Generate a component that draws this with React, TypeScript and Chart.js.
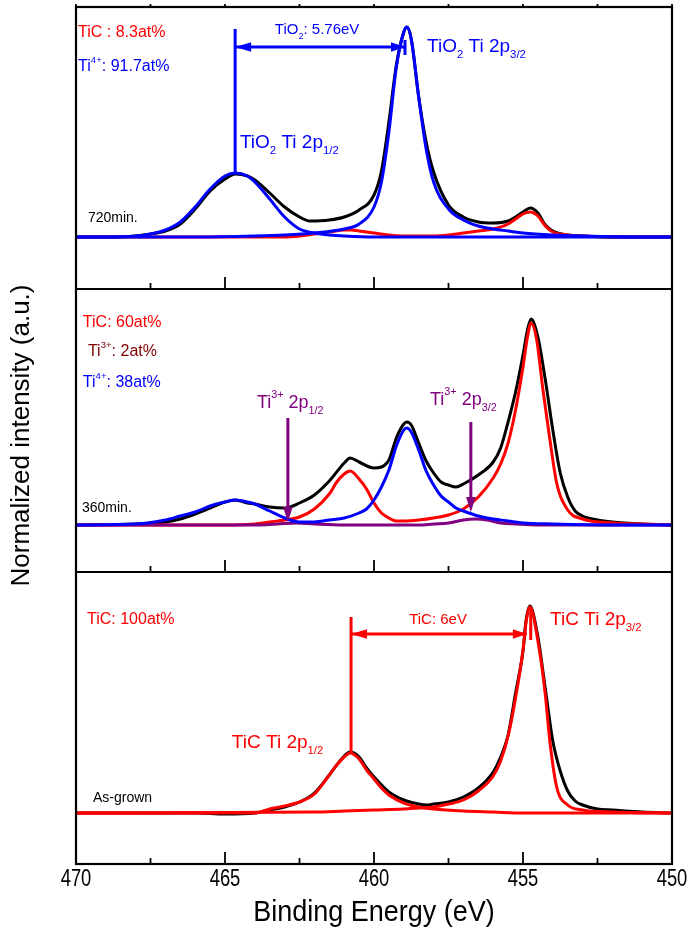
import React, { useEffect, useRef } from "react";
import { Chart, registerables } from "chart.js";

Chart.register(...registerables);

const FONT = '"Liberation Sans", Arial, Helvetica, sans-serif';

// ---------- axis ----------
const X_MIN = 450;
const X_MAX = 470;
const X_MAJOR_TICKS = [470, 465, 460, 455, 450];
const X_TICK_LABELS = ["470", "465", "460", "455", "450"];
const X_MINOR_TICKS = [467.5, 462.5, 457.5, 452.5];

// ---------- 720 min. (top panel) : binding energy (eV) / intensity (a.u.) ----------
const T_EXP_X = [470, 469, 468, 467.5, 467, 466.5, 466, 465.5, 465, 464.65, 464.25, 464, 463.5, 463, 462.5, 462.15, 461.5, 461, 460.5, 460, 459.75, 459.5, 459.25, 459, 458.9, 458.75, 458.5, 458.25, 458, 457.5, 457, 456.5, 456, 455.5, 455.25, 455, 454.75, 454.5, 454.25, 454, 453.5, 453, 452, 451, 450];
const T_EXP_Y = [0, 0, 1, 3, 6, 13, 28, 46, 58, 63, 61, 57, 44, 30, 20, 16, 17, 20, 27, 42, 66, 115, 172, 205, 210, 198, 140, 95, 65, 32, 20, 15, 14, 16, 20, 25, 29, 24, 12, 6, 2, 1, 0, 0, 0];

const T_TIO2_32_X = [470, 466, 464, 463, 462, 461, 460.5, 460, 459.75, 459.5, 459.25, 459, 458.9, 458.75, 458.5, 458.25, 458, 457.5, 457, 456.5, 456, 455.5, 455, 454, 453, 451, 450];
const T_TIO2_32_Y = [0, 0, 1, 2, 4, 8, 13, 30, 55, 105, 170, 205, 210, 198, 140, 88, 55, 28, 17, 11, 8, 6, 4, 2, 1, 0, 0];

const T_TIO2_12_X = [470, 469, 468, 467.5, 467, 466.5, 466, 465.5, 465, 464.65, 464.25, 464, 463.5, 463, 462.5, 462, 461.5, 461, 460, 458, 450];
const T_TIO2_12_Y = [0, 0, 1, 3, 7, 15, 30, 48, 61, 64, 61, 55, 38, 20, 8, 4, 2, 1, 0, 0, 0];

const T_TIC_X = [470, 463, 462.5, 462, 461.5, 461, 460.75, 460.5, 460, 459.5, 459, 458.5, 458, 457.5, 457, 456.5, 456, 455.5, 455.25, 455, 454.75, 454.5, 454.25, 454, 453.5, 453, 452, 450];
const T_TIC_Y = [0, 0, 1, 3, 5, 7, 7, 6, 4, 2, 1, 1, 1, 2, 4, 6, 8, 13, 18, 23, 25, 21, 11, 5, 2, 1, 0, 0];

// ---------- 360 min. (middle panel) ----------
const M_EXP_X = [470, 468, 467, 466.5, 466, 465.5, 465, 464.65, 464.25, 464, 463.5, 463, 462.5, 462, 461.5, 461, 460.8, 460.5, 460, 459.75, 459.5, 459.25, 459, 458.9, 458.75, 458.5, 458.25, 458, 457.75, 457.5, 457.25, 457, 456.5, 456, 455.75, 455.5, 455.25, 455, 454.85, 454.73, 454.5, 454.25, 454, 453.75, 453.5, 453.25, 453, 452.5, 452, 451, 450];
const M_EXP_Y = [0, 1, 3, 6, 11, 17, 23, 25, 22, 21, 18, 17, 22, 30, 44, 62, 67, 63, 57, 58, 65, 87, 101, 103, 100, 82, 64, 52, 43, 40, 38, 41, 50, 63, 77, 103, 133, 170, 195, 206, 188, 145, 95, 52, 28, 14, 9, 5, 3, 1, 0];

const M_TIO2_X = [470, 468, 467, 466.5, 466, 465.5, 465, 464.65, 464.25, 464, 463.5, 463, 462.5, 462, 461.5, 461, 460.5, 460.25, 460, 459.75, 459.5, 459.25, 459, 458.9, 458.75, 458.5, 458.25, 458, 457.75, 457.5, 457.25, 457, 456.5, 456, 455.5, 455, 454, 452, 450];
const M_TIO2_Y = [0, 1, 5, 9, 13, 19, 23, 25, 23, 21, 14, 7, 3, 3, 5, 7, 12, 16, 25, 38, 55, 79, 95, 97, 93, 75, 54, 40, 29, 23, 17, 14, 9, 6, 4, 2, 1, 0, 0];

const M_TIC_X = [470, 465, 464, 463.5, 463, 462.5, 462, 461.5, 461.25, 461, 460.8, 460.5, 460.25, 460, 459.75, 459.5, 459.25, 459, 458.5, 458, 457.5, 457, 456.5, 456, 455.75, 455.5, 455.25, 455, 454.85, 454.73, 454.54, 454.33, 454.1, 453.87, 453.5, 453, 452, 451, 450];
const M_TIC_Y = [0, 0, 1, 3, 5, 8, 16, 31, 43, 51, 54, 46, 36, 22, 12, 7, 4, 4, 5, 7, 10, 16, 28, 47, 61, 82, 115, 158, 188, 202, 185, 135, 86, 42, 15, 6, 2, 1, 0];

const M_TI3_X = [470, 464, 463.25, 462.6, 462, 461, 458.5, 458, 457.5, 457, 456.6, 456.2, 455.75, 455.25, 454.5, 450];
const M_TI3_Y = [0, 0, 1, 2, 1, 0, 0, 1, 2, 5, 6, 5, 2, 1, 0, 0];

// ---------- As-grown (bottom panel) ----------
const B_EXP_X = [470, 466, 465, 464, 463.5, 463, 462.5, 462, 461.5, 461, 460.8, 460.5, 460.25, 460, 459.5, 459, 458.5, 458.25, 458, 457.5, 457, 456.5, 456, 455.75, 455.5, 455.25, 455, 454.9, 454.77, 454.5, 454.25, 454, 453.75, 453.5, 453.25, 453, 452.5, 452, 451, 450];
const B_EXP_Y = [0, 0, -1, 0, 3, 6, 11, 20, 38, 57, 61, 56, 45, 36, 21, 13, 9, 8, 9, 11, 16, 25, 41, 56, 78, 120, 162, 192, 207, 176, 124, 72, 42, 22, 12, 8, 4, 3, 1, 0];

const B_TIC_12_X = [470, 464, 463.5, 463, 462.5, 462, 461.5, 461.25, 461, 460.8, 460.5, 460.25, 460, 459.75, 459.5, 459, 458.5, 458, 457, 456, 455, 450];
const B_TIC_12_Y = [0, 0, 4, 7, 11, 19, 38, 48, 56, 60, 54, 43, 34, 25, 18, 10, 6, 4, 2, 1, 0, 0];

const B_TIC_32_X = [470, 462, 461, 460, 459, 458.5, 458, 457.5, 457, 456.5, 456, 455.75, 455.5, 455.25, 455, 454.9, 454.77, 454.5, 454.25, 454.1, 453.87, 453.5, 453, 452, 450];
const B_TIC_32_Y = [0, 1, 2, 3, 4, 5, 6, 9, 13, 22, 37, 52, 77, 115, 163, 190, 206, 172, 118, 72, 26, 8, 3, 1, 0];

// ---------- layout of the stacked panels (a.u. on a common axis) ----------
const Y_MAX = 857;
const OFF_TOP = 627;
const OFF_MID = 339;
const OFF_BOT = 51;
const DIVIDERS = [292, 575];

const RED = "#ff0000";
const BLUE = "#0000ff";
const PURPLE = "#800080";
const DARKRED = "#800000";

function series(xs: number[], ys: number[], off: number, color: string, order: number, width = 3) {
  const pts = xs.map((x, i) => ({ x, y: ys[i] + off })).sort((a, b) => a.x - b.x);
  return {
    data: pts,
    borderColor: color,
    backgroundColor: color,
    borderWidth: width,
    pointRadius: 0,
    fill: false,
    tension: 0.4,
    cubicInterpolationMode: "monotone" as const,
    order,
  };
}

type Seg = [string, number]; // 0 normal, 1 subscript, 2 superscript

function drawRich(ctx: CanvasRenderingContext2D, segs: Seg[], x: number, y: number, size: number, color: string, align: "left" | "center" = "left") {
  ctx.save();
  ctx.fillStyle = color;
  ctx.textBaseline = "middle";
  ctx.textAlign = "left";
  const sz = (m: number) => (m ? size * 0.6 : size);
  let total = 0;
  for (const [t, m] of segs) {
    ctx.font = `${sz(m)}px ${FONT}`;
    total += ctx.measureText(t).width;
  }
  let cx = align === "center" ? x - total / 2 : x;
  for (const [t, m] of segs) {
    ctx.font = `${sz(m)}px ${FONT}`;
    const dy = m === 1 ? size * 0.42 : m === 2 ? -size * 0.42 : 0;
    ctx.fillText(t, cx, y + dy);
    cx += ctx.measureText(t).width;
  }
  ctx.restore();
}

// narrow (horizontally condensed) axis text
function drawNarrow(ctx: CanvasRenderingContext2D, t: string, x: number, y: number, size: number, squeeze: number, rotate = 0) {
  ctx.save();
  ctx.translate(x, y);
  if (rotate) ctx.rotate(rotate);
  ctx.scale(squeeze, 1);
  ctx.fillStyle = "#000";
  ctx.font = `${size}px ${FONT}`;
  ctx.textAlign = "center";
  ctx.textBaseline = "middle";
  ctx.fillText(t, 0, 0);
  ctx.restore();
}

const overlayPlugin = {
  id: "overlay",
  afterDraw(chart: any) {
    const ctx: CanvasRenderingContext2D = chart.ctx;
    const xs = chart.scales.x;
    const ys = chart.scales.y;
    const area = chart.chartArea;
    const px = (v: number) => xs.getPixelForValue(v);
    const py = (v: number) => ys.getPixelForValue(v);

    const line = (x1: number, y1: number, x2: number, y2: number, color: string, w = 2.6) => {
      ctx.save();
      ctx.strokeStyle = color;
      ctx.lineWidth = w;
      ctx.beginPath();
      ctx.moveTo(px(x1), py(y1));
      ctx.lineTo(px(x2), py(y2));
      ctx.stroke();
      ctx.restore();
    };
    const head = (tx: number, ty: number, dirx: number, diry: number, color: string, len = 14, half = 4.5) => {
      ctx.save();
      ctx.fillStyle = color;
      ctx.beginPath();
      ctx.moveTo(tx, ty);
      const bx = tx - dirx * len;
      const by = ty - diry * len;
      ctx.lineTo(bx - diry * half, by + dirx * half);
      ctx.lineTo(bx + diry * half, by - dirx * half);
      ctx.closePath();
      ctx.fill();
      ctx.restore();
    };
    const hArrow = (xa: number, xb: number, y: number, color: string) => {
      line(xa, y, xb, y, color, 2.8);
      head(px(xa), py(y), -1, 0, color, 16, 4.8);
      head(px(xb), py(y), 1, 0, color, 14, 4.8);
    };
    const vArrowDown = (x: number, yTop: number, yTip: number, color: string) => {
      ctx.save();
      ctx.strokeStyle = color;
      ctx.lineWidth = 3;
      ctx.beginPath();
      ctx.moveTo(px(x), py(yTop));
      ctx.lineTo(px(x), py(yTip) - 10);
      ctx.stroke();
      ctx.restore();
      head(px(x), py(yTip), 0, 1, color, 15, 4.8);
    };
    const text = (segs: Seg[], x: number, y: number, size: number, color: string, align: "left" | "center" = "left") =>
      drawRich(ctx, segs, px(x), py(y), size, color, align);

    // ----- frame, panel dividers, ticks -----
    ctx.save();
    ctx.strokeStyle = "#000";
    ctx.lineWidth = 2.2;
    ctx.strokeRect(area.left, area.top, area.right - area.left, area.bottom - area.top);
    const axisYs = [area.bottom, ...DIVIDERS.map((d) => py(d))];
    for (const d of DIVIDERS) {
      ctx.beginPath();
      ctx.moveTo(area.left, py(d));
      ctx.lineTo(area.right, py(d));
      ctx.stroke();
    }
    ctx.lineWidth = 1.8;
    for (const ay of axisYs) {
      for (const t of X_MAJOR_TICKS) {
        ctx.beginPath();
        ctx.moveTo(px(t), ay);
        ctx.lineTo(px(t), ay - 12);
        ctx.stroke();
      }
      for (const t of X_MINOR_TICKS) {
        ctx.beginPath();
        ctx.moveTo(px(t), ay);
        ctx.lineTo(px(t), ay - 6);
        ctx.stroke();
      }
    }
    for (const t of [...X_MAJOR_TICKS, ...X_MINOR_TICKS]) {
      ctx.beginPath();
      ctx.moveTo(px(t), area.top);
      ctx.lineTo(px(t), area.top - 3);
      ctx.stroke();
    }
    ctx.restore();

    // tick labels and axis titles
    X_MAJOR_TICKS.forEach((t, i) => drawNarrow(ctx, X_TICK_LABELS[i], px(t), area.bottom + 16, 23, 0.8));
    drawNarrow(ctx, "Binding Energy (eV)", (area.left + area.right) / 2, area.bottom + 49, 30, 0.9);
    drawNarrow(ctx, "Normalized intensity (a.u.)", 22, (area.top + area.bottom) / 2, 26, 1.0, -Math.PI / 2);

    // ----- top panel (720 min.) -----
    line(464.66, OFF_TOP + 64, 464.66, 835, BLUE, 3);
    hArrow(464.66, 458.96, 817, BLUE);
    line(458.96, 809, 458.96, 824, BLUE, 3);
    text([["TiO", 0], ["2", 1], [": 5.76eV", 0]], 461.91, 834, 15, BLUE, "center");
    text([["TiO", 0], ["2", 1], [" Ti 2p", 0], ["3/2", 1]], 458.22, 817, 19, BLUE);
    text([["TiO", 0], ["2", 1], [" Ti 2p", 0], ["1/2", 1]], 464.5, 721, 19, BLUE);
    text([["TiC : 8.3at%", 0]], 469.93, 831, 16, RED);
    text([["Ti", 0], ["4+", 2], [": 91.7at%", 0]], 469.93, 797, 16, BLUE);
    text([["720min.", 0]], 469.6, 646, 14, "#000");

    // ----- middle panel (360 min.) -----
    text([["TiC: 60at%", 0]], 469.77, 541, 16, RED);
    text([["Ti", 0], ["3+", 2], [": 2at%", 0]], 469.6, 512, 16, DARKRED);
    text([["Ti", 0], ["4+", 2], [": 38at%", 0]], 469.77, 481, 16, BLUE);
    text([["Ti", 0], ["3+", 2], [" 2p", 0], ["1/2", 1]], 463.93, 461, 18, PURPLE);
    vArrowDown(462.89, 446, 342, PURPLE);
    text([["Ti", 0], ["3+", 2], [" 2p", 0], ["3/2", 1]], 458.12, 464, 18, PURPLE);
    vArrowDown(456.75, 442, 352, PURPLE);
    text([["360min.", 0]], 469.8, 356, 14, "#000");

    // ----- bottom panel (as-grown) -----
    text([["TiC: 100at%", 0]], 469.63, 244, 16, RED);
    line(460.77, OFF_BOT + 60, 460.77, 247, RED, 3);
    hArrow(460.77, 454.87, 230, RED);
    line(454.74, 224, 454.74, 257, RED, 3);
    text([["TiC: 6eV", 0]], 457.85, 244, 15, RED, "center");
    text([["TiC Ti 2p", 0], ["3/2", 1]], 454.09, 244, 19, RED);
    text([["TiC Ti 2p", 0], ["1/2", 1]], 464.77, 121, 19, RED);
    text([["As-grown", 0]], 469.43, 66, 14, "#000");
  },
};

export default function App() {
  const ref = useRef<HTMLCanvasElement | null>(null);
  useEffect(() => {
    if (!ref.current) return;
    const datasets = [
      // top panel
      series(T_TIO2_32_X, T_TIO2_32_Y, OFF_TOP, BLUE, 1),
      series(T_TIO2_12_X, T_TIO2_12_Y, OFF_TOP, BLUE, 1),
      series(T_TIC_X, T_TIC_Y, OFF_TOP, RED, 2),
      series(T_EXP_X, T_EXP_Y, OFF_TOP, "#000", 3),
      // middle panel
      series(M_TIO2_X, M_TIO2_Y, OFF_MID, BLUE, 1),
      series(M_TI3_X, M_TI3_Y, OFF_MID, PURPLE, 2),
      series(M_TIC_X, M_TIC_Y, OFF_MID, RED, 2),
      series(M_EXP_X, M_EXP_Y, OFF_MID, "#000", 3),
      // bottom panel
      series(B_TIC_12_X, B_TIC_12_Y, OFF_BOT, RED, 1),
      series(B_TIC_32_X, B_TIC_32_Y, OFF_BOT, RED, 1),
      series(B_EXP_X, B_EXP_Y, OFF_BOT, "#000", 3),
    ];
    const chart = new Chart(ref.current, {
      type: "line",
      data: { datasets: datasets as any },
      options: {
        animation: false,
        responsive: false,
        devicePixelRatio: 1,
        events: [],
        layout: { padding: { left: 76, right: 20, top: 7, bottom: 74 } },
        plugins: { legend: { display: false }, tooltip: { enabled: false } },
        scales: {
          x: { type: "linear", min: X_MIN, max: X_MAX, reverse: true, display: false },
          y: { type: "linear", min: 0, max: Y_MAX, display: false },
        },
      },
      plugins: [overlayPlugin],
    });
    return () => chart.destroy();
  }, []);
  return (
    <div style={{ position: "absolute", left: 0, top: 0, width: 692, height: 938, background: "#fff" }}>
      <canvas ref={ref} width={692} height={938} style={{ display: "block" }} />
    </div>
  );
}
